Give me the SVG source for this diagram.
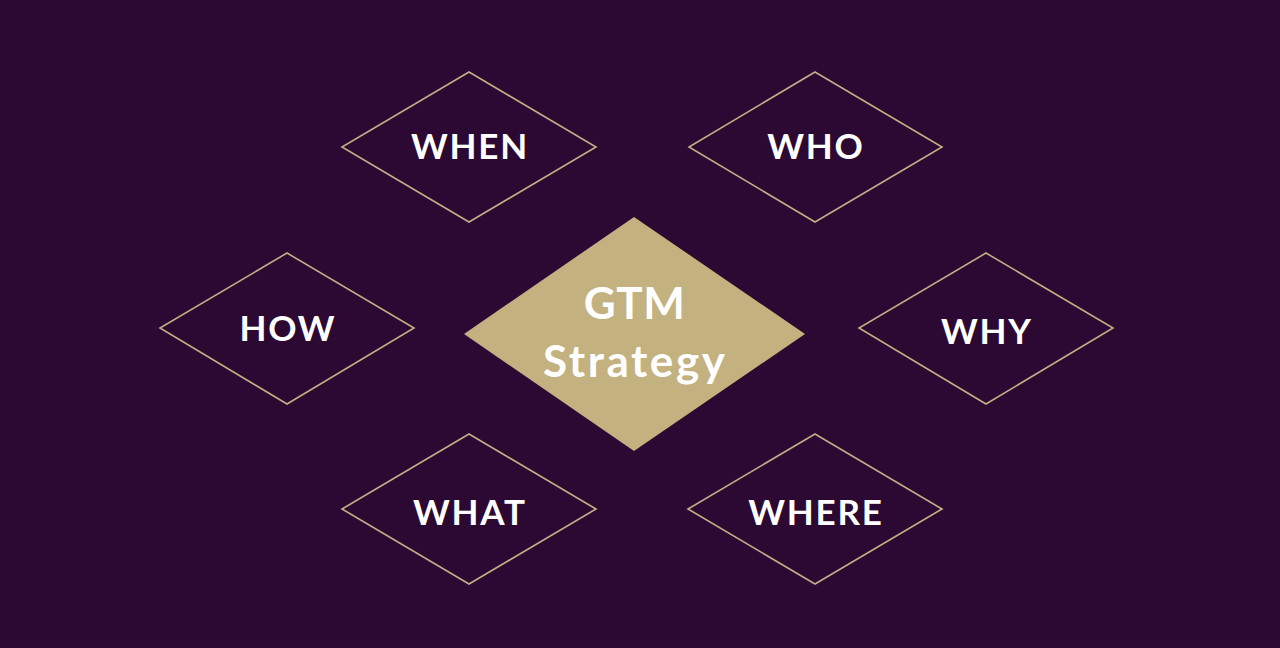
<svg xmlns="http://www.w3.org/2000/svg" width="1280" height="648" viewBox="0 0 1280 648">
<style>
.bg{fill:#2c0932}
.d{fill:none;stroke:#c4ad85;stroke-width:1.6}
.c{fill:#c3b17f}
.t{font-family:"Lato","Open Sans","Liberation Sans",sans-serif;font-weight:700;fill:#ffffff;text-anchor:middle;font-size:35px;letter-spacing:1.8px}
.ct{font-family:"Lato","Open Sans","Liberation Sans",sans-serif;font-weight:700;fill:#ffffff;text-anchor:middle;font-size:44px;letter-spacing:2.6px}
</style>
<rect class="bg" x="0" y="0" width="1280" height="648"/>
<g id="connectors"></g>
<g id="center">
<polygon class="c" points="634,217 805,334 634,451 464,334"/>
<text class="ct" x="634.5" y="319" style="letter-spacing:0.6px">GTM</text>
<text class="ct" x="635.3" y="377">Strategy</text>
</g>
<g id="when">
<polygon class="d" points="469,72 596,147 469,222 342,147"/>
<text class="t" x="469.9" y="159">WHEN</text>
</g>
<g id="who">
<polygon class="d" points="815,72 942,147 815,222 689,147"/>
<text class="t" x="815.9" y="159">WHO</text>
</g>
<g id="how">
<polygon class="d" points="287,253 414,328 287,404 160,328"/>
<text class="t" x="287.9" y="341">HOW</text>
</g>
<g id="why">
<polygon class="d" points="986,253 1113,328 986,404 859,328"/>
<text class="t" x="986.9" y="344">WHY</text>
</g>
<g id="what">
<polygon class="d" points="469,434 596,509 469,584 342,509"/>
<text class="t" x="469.9" y="525">WHAT</text>
</g>
<g id="where">
<polygon class="d" points="815,434 942,509 815,584 688,509"/>
<text class="t" x="815.9" y="525">WHERE</text>
</g>
</svg>
